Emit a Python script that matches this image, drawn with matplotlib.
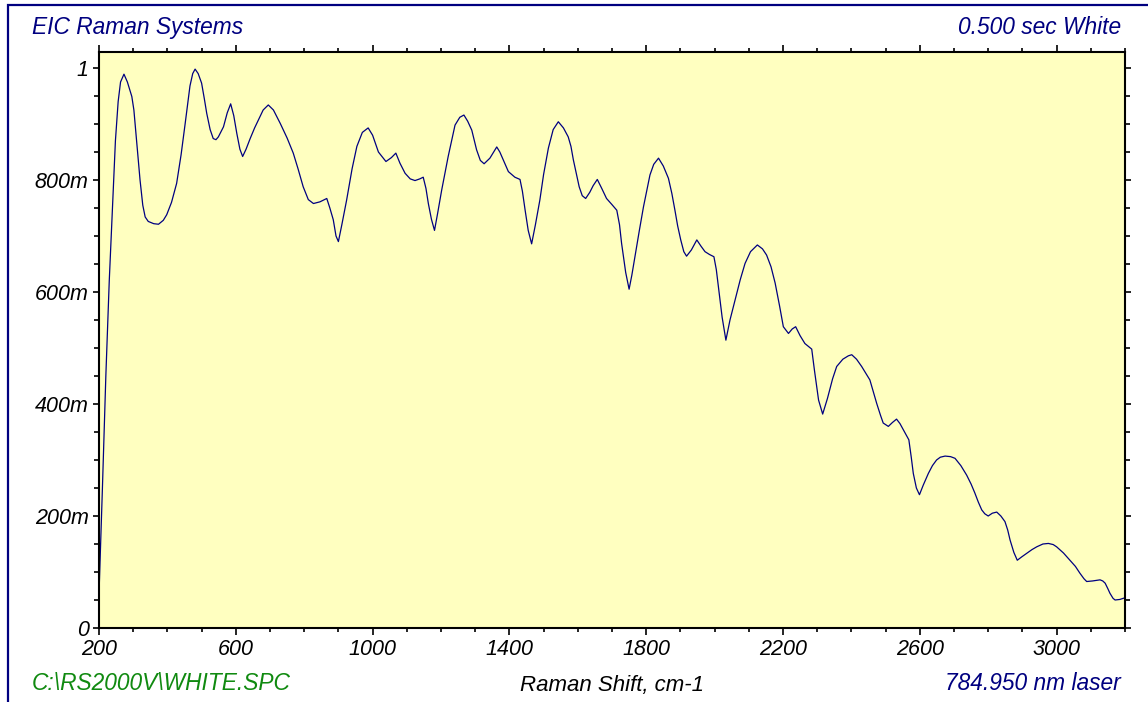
import matplotlib
matplotlib.use('Agg')
import matplotlib.pyplot as plt
from matplotlib.patches import Rectangle

shift = [200, 210, 220, 230, 240, 248, 256, 263, 273, 283, 296, 302, 310, 320, 328, 335,
         344, 360, 374, 388, 398, 412, 427, 440, 452, 466, 474, 481, 490, 500, 508, 515,
         525, 534, 542, 549, 564, 575, 585, 594, 603, 612, 620, 630, 642, 655, 666, 680,
         695, 710, 730, 750, 768, 782, 797, 812, 827, 846, 866, 875, 885, 893, 900, 910,
         924, 940, 954, 970, 987, 1000, 1017, 1039, 1055, 1068, 1080, 1095, 1110, 1124,
         1138, 1148, 1156, 1163, 1172, 1181, 1190, 1202, 1221, 1241, 1255, 1267, 1278,
         1290, 1304, 1315, 1326, 1343, 1363, 1372, 1382, 1397, 1416, 1431, 1438, 1446,
         1455, 1465, 1476, 1489, 1500, 1514, 1528, 1543, 1558, 1572, 1580, 1587, 1604,
         1613, 1623, 1635, 1645, 1657, 1670, 1684, 1700, 1714, 1722, 1728, 1740, 1750,
         1758, 1767, 1780, 1792, 1811, 1822, 1836, 1850, 1865, 1875, 1884, 1892, 1901,
         1910, 1918, 1932, 1948, 1960, 1972, 1985, 1998, 2005, 2011, 2022, 2033, 2045,
         2060, 2075, 2089, 2105, 2125, 2140, 2152, 2165, 2177, 2190, 2201, 2216, 2227,
         2237, 2250, 2264, 2284, 2292, 2304, 2316, 2330, 2345, 2357, 2375, 2391, 2401,
         2415, 2430, 2454, 2465, 2474, 2485, 2493, 2508, 2520, 2532, 2542, 2552, 2568,
         2575, 2581, 2590, 2599, 2610, 2625, 2637, 2649, 2660, 2674, 2690, 2703, 2720,
         2737, 2750, 2761, 2771, 2781, 2790, 2800, 2812, 2825, 2837, 2849, 2857, 2864,
         2875, 2885, 2898, 2912, 2928, 2942, 2960, 2976, 2990, 3000, 3020, 3039, 3055,
         3068, 3080, 3088, 3105, 3127, 3135, 3142, 3150, 3156, 3165, 3171, 3185, 3200]
intensite = [0.06, 0.25, 0.45, 0.62, 0.76, 0.87, 0.94, 0.975, 0.989, 0.975, 0.949, 0.925,
             0.87, 0.80, 0.755, 0.734, 0.726, 0.722, 0.721, 0.728, 0.738, 0.76, 0.794,
             0.845, 0.901, 0.968, 0.99, 0.998, 0.99, 0.973, 0.945, 0.919, 0.89, 0.874,
             0.872, 0.877, 0.895, 0.92, 0.936, 0.915, 0.883, 0.855, 0.842, 0.855, 0.874,
             0.893, 0.907, 0.925, 0.934, 0.925, 0.901, 0.875, 0.848, 0.82, 0.788, 0.765,
             0.758, 0.761, 0.767, 0.75, 0.729, 0.70, 0.690, 0.72, 0.764, 0.82, 0.860,
             0.885, 0.893, 0.88, 0.850, 0.833, 0.840, 0.848, 0.83, 0.812, 0.802, 0.799,
             0.802, 0.805, 0.785, 0.758, 0.73, 0.710, 0.74, 0.782, 0.842, 0.898, 0.912,
             0.916, 0.905, 0.889, 0.854, 0.835, 0.829, 0.839, 0.859, 0.85, 0.836, 0.815,
             0.805, 0.801, 0.78, 0.746, 0.71, 0.686, 0.72, 0.764, 0.81, 0.857, 0.89,
             0.904, 0.893, 0.877, 0.86, 0.836, 0.788, 0.772, 0.767, 0.778, 0.790, 0.801,
             0.785, 0.767, 0.756, 0.746, 0.72, 0.687, 0.635, 0.605, 0.63, 0.663, 0.71,
             0.752, 0.809, 0.828, 0.839, 0.825, 0.803, 0.776, 0.746, 0.718, 0.693, 0.672,
             0.664, 0.675, 0.693, 0.682, 0.672, 0.667, 0.663, 0.64, 0.610, 0.555, 0.514,
             0.55, 0.586, 0.622, 0.651, 0.672, 0.684, 0.677, 0.666, 0.645, 0.616, 0.575,
             0.538, 0.526, 0.534, 0.538, 0.522, 0.508, 0.498, 0.46, 0.407, 0.382, 0.41,
             0.445, 0.467, 0.48, 0.486, 0.488, 0.48, 0.467, 0.443, 0.42, 0.401, 0.38,
             0.366, 0.360, 0.367, 0.373, 0.365, 0.354, 0.336, 0.305, 0.276, 0.25, 0.238,
             0.255, 0.276, 0.29, 0.300, 0.305, 0.307, 0.306, 0.303, 0.29, 0.273, 0.257,
             0.241, 0.225, 0.211, 0.204, 0.200, 0.205, 0.207, 0.2, 0.190, 0.175, 0.157,
             0.135, 0.121, 0.127, 0.133, 0.14, 0.145, 0.15, 0.151, 0.149, 0.145, 0.134,
             0.121, 0.11, 0.098, 0.088, 0.083, 0.084, 0.086, 0.084, 0.080, 0.07, 0.062,
             0.053, 0.050, 0.051, 0.054]

x_ticks = [200, 600, 1000, 1400, 1800, 2200, 2600, 3000]
y_ticks = [0, 0.2, 0.4, 0.6, 0.8, 1.0]
y_labels = ['0', '200m', '400m', '600m', '800m', '1']

plt.rcParams['font.family'] = ['Liberation Sans', 'DejaVu Sans']
plt.rcParams['font.style'] = 'italic'

W, H = 1148, 702
fig = plt.figure(figsize=(W / 100, H / 100), dpi=100)

# Cadre bleu autour du graphique
fig.patches.append(Rectangle((8 / W, -0.05), 1.1, 1 - 5 / H + 0.05, transform=fig.transFigure,
                             fill=False, edgecolor='#000080', linewidth=1.6))

ax = fig.add_axes([99 / W, 1 - 628 / H, (1125 - 99) / W, (628 - 52) / H])
ax.set_facecolor('#ffffc0')
ax.plot(shift, intensite, color='#000080', linewidth=0.9)

ax.set_xlim(200, 3200)
ax.set_ylim(0, 576 / 560)
ax.set_xticks(x_ticks)
ax.set_xticks(range(200, 3201, 100), minor=True)
ax.set_yticks(y_ticks)
ax.set_yticklabels(y_labels)
ax.set_yticks([i * 0.05 for i in range(21)], minor=True)

for s in ax.spines.values():
    s.set_linewidth(1.5)
ax.tick_params(which='both', direction='out', top=True, right=True, width=1.2,
               labelsize=15.5, colors='black')
ax.tick_params(axis='x', which='major', length=5, pad=3)
ax.tick_params(axis='x', which='minor', length=3)
ax.tick_params(axis='y', which='major', length=4.5, pad=3)
ax.tick_params(axis='y', which='minor', length=3.5)

ax.set_xlabel('Raman Shift, cm-1', fontsize=16, labelpad=11)

fig.text(32 / W, 1 - 34 / H, 'EIC Raman Systems', fontsize=16.4, color='#000080',
         ha='left', va='baseline')
fig.text(1121 / W, 1 - 34 / H, '0.500 sec White', fontsize=16.4, color='#000080',
         ha='right', va='baseline')
fig.text(32 / W, 1 - 690 / H, 'C:\\RS2000V\\WHITE.SPC', fontsize=16.4, color='#108a10',
         ha='left', va='baseline')
fig.text(1121 / W, 1 - 690 / H, '784.950 nm laser', fontsize=16.4, color='#000080',
         ha='right', va='baseline')

fig.savefig('out.png', dpi=100)
